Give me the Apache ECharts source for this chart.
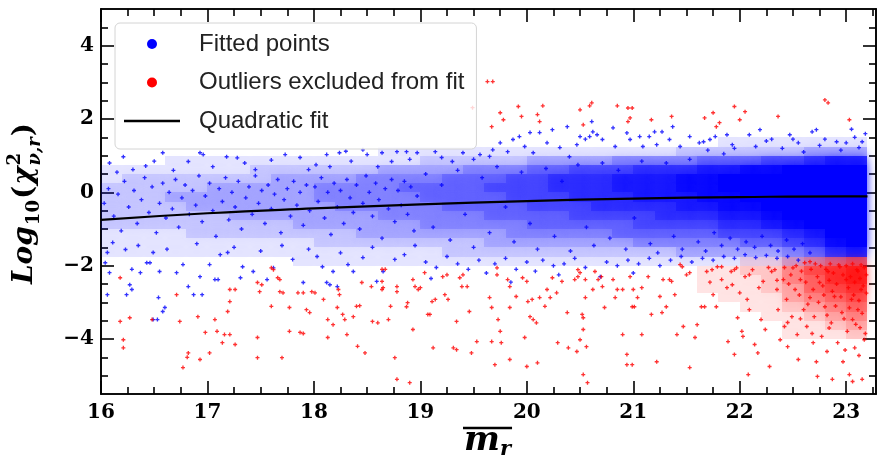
<!DOCTYPE html>
<html><head><meta charset="utf-8">
<script src="https://cdn.jsdelivr.net/npm/echarts@6/dist/echarts.min.js"></script>
<style>html,body{margin:0;padding:0;background:#fff}#c{width:877px;height:455px}</style>
</head><body><div id="c"></div>
<script>
// ---------- ticks ----------
const xMajorTicks = [16,17,18,19,20,21,22,23];
const xMinorTicks = [16.25,16.5,16.75,17.25,17.5,17.75,18.25,18.5,18.75,19.25,19.5,19.75,20.25,20.5,20.75,21.25,21.5,21.75,22.25,22.5,22.75,23.25];
const yMajorTicks = [-4,-2,0,2,4];
const yMinorTicks = [-5,-4.5,-3.5,-3,-2.5,-1.5,-1,-0.5,0.5,1,1.5,2.5,3,3.5,4.5];

// ---------- quadratic fit ----------
const fitMag    = [16, 17, 18, 19, 20, 21, 22, 23, 23.2];
const fitLogChi = [-0.75,-0.57,-0.44,-0.33,-0.24,-0.17,-0.13,-0.11,-0.11];

// ---------- blue point-density (columns of cells, bottom -> top) ----------
const densityMagBins = [16.0,16.2,16.4,16.6,16.8,17.0,17.2,17.4,17.6,17.8,18.0,18.2,18.4,18.6,18.8,19.0,19.2,19.4,19.6,19.8,20.0,20.2,20.4,20.6,20.8,21.0,21.2,21.4,21.6,21.8,22.0,22.2,22.4,22.6,22.8,23.0,23.2];
const blueLogBins = [-2.0,-1.75,-1.5,-1.25,-1.0,-0.75,-0.5,-0.25,0,0.25,0.5,0.75,1.0,1.25,1.5];
const blueDensity = [
[0,1,1,1,2,2,2,2,2,1,1,0,0,0],[0,1,1,1,2,2,2,2,2,2,1,0,0,0],[0,1,1,1,2,2,2,2,2,2,1,0,0,0],[0,1,1,1,2,2,2,3,2,2,1,1,0,0],
[0,1,1,2,2,2,3,3,2,2,1,1,0,0],[0,1,1,2,2,2,3,3,3,2,1,1,0,0],[0,1,1,2,2,3,3,3,3,2,1,1,0,0],[0,1,1,2,2,3,3,3,3,2,2,1,0,0],
[0,1,1,2,2,3,3,3,3,3,2,1,0,0],[1,1,1,2,3,3,3,3,3,3,2,1,0,0],[1,1,2,2,3,3,3,4,4,3,2,1,0,0],[1,1,2,2,3,3,4,4,4,3,2,1,0,0],
[1,1,2,3,3,3,4,4,4,4,2,1,0,0],[1,1,2,3,3,4,4,4,4,4,3,1,1,0],[1,1,2,3,3,4,4,4,5,4,3,1,1,0],[1,1,2,3,4,4,4,5,5,4,3,2,1,0],
[1,2,2,3,4,4,5,5,5,5,3,2,1,0],[1,2,2,3,4,4,5,5,5,5,4,2,1,0],[1,2,3,3,4,5,5,5,6,5,4,2,1,0],[1,2,3,4,4,5,5,6,6,6,4,2,1,0],
[1,2,3,4,5,5,6,6,6,6,5,3,1,0],[1,2,3,4,5,5,6,6,7,7,5,3,1,0],[1,2,3,4,5,6,6,7,7,7,6,3,1,0],[1,2,3,4,5,6,7,7,7,7,6,3,1,0],
[1,2,3,5,5,6,7,7,8,8,6,4,1,0],[1,2,4,5,6,6,7,8,8,8,7,4,1,0],[1,2,4,5,6,7,7,8,8,8,7,4,1,0],[1,3,4,5,6,7,8,8,9,9,7,4,2,0],
[1,3,4,5,6,7,8,9,9,9,8,5,2,0],[1,3,4,6,7,8,9,9,10,10,8,5,2,1],[1,3,5,6,7,8,9,10,10,10,9,5,2,1],[1,3,5,6,8,9,10,10,10,10,9,6,2,1],
[2,4,6,7,9,10,10,10,10,10,10,6,2,1],[2,5,7,8,10,10,10,10,10,10,10,7,3,1],[2,7,9,10,10,10,10,10,10,10,10,8,3,1],[2,8,10,10,10,10,10,10,10,10,10,8,3,1]
];
// ---------- red point-density (dense outlier clump) ----------
const redMagBins = [21.6,21.8,22.0,22.2,22.4,22.6,22.8,23.0,23.2];
const redLogBins = [-4.0,-3.75,-3.5,-3.25,-3.0,-2.75,-2.5,-2.25,-2.0,-1.75];
const redDensity = [
[0,0,0,0,0,1,1,1,0],[0,0,0,0,1,1,1,1,0],[0,0,0,1,1,1,1,2,1],[0,0,1,1,1,2,2,2,1],
[1,1,1,2,3,3,4,4,2],[1,1,2,3,4,5,5,6,3],[1,2,3,4,5,6,7,7,4],[2,3,4,5,6,7,8,8,5]
];

// ---------- individual fitted points ----------
const fittedCore = [[16.03,-0.30],[16.07,0.10],[16.12,-0.65],[16.16,-0.05],[16.19,-1.05],[16.22,0.30],[16.26,-0.40],[16.31,0.05],[16.34,-0.85],[16.38,-0.20],[16.41,0.40],[16.45,-0.55],[16.48,0.15],[16.52,-1.10],[16.55,-0.30],[16.58,0.25],[16.61,-0.70],[16.64,0.00],[16.67,-0.45],[16.70,0.35],[16.73,-0.95],[16.76,-0.15],[16.79,0.20],[16.83,-0.60],[16.86,0.05],[16.89,-0.35],[16.92,0.45],[16.95,-0.80],[16.98,-0.10],
[17.02,0.25],[17.05,-0.50],[17.08,-1.20],[17.11,0.10],[17.14,-0.25],[17.17,0.40],[17.20,-0.75],[17.23,0.00],[17.26,-0.40],[17.29,0.30],[17.32,-1.00],[17.36,-0.15],[17.39,0.15],[17.42,-0.60],[17.45,0.45],[17.48,-0.30],[17.51,0.05],[17.54,-0.85],[17.57,0.20],[17.60,-0.45],[17.63,-0.05],[17.66,0.35],[17.69,-1.10],[17.72,-0.20],[17.75,0.10],[17.78,-0.65],[17.81,0.30],[17.84,-0.35],[17.87,0.00],[17.90,-0.90],[17.93,0.20],[17.96,-0.50],
[18.01,0.15],[18.04,-0.25],[18.07,0.40],[18.10,-0.70],[18.13,0.00],[18.16,-1.15],[18.19,0.25],[18.22,-0.40],[18.25,0.05],[18.28,-0.85],[18.31,0.35],[18.34,-0.15],[18.37,-0.55],[18.40,0.20],[18.43,-1.00],[18.46,-0.30],[18.49,0.45],[18.52,0.00],[18.55,-0.65],[18.58,0.25],[18.61,-0.20],[18.64,-1.25],[18.67,0.10],[18.70,-0.45],[18.73,0.35],[18.76,-0.80],[18.79,0.05],[18.82,-0.35],[18.85,0.30],[18.88,-0.60],[18.91,0.15],[18.94,-1.05],[18.97,-0.10],
[19.05,0.50],[19.12,-0.95],[19.20,0.20],[19.28,-1.30],[19.35,0.60],[19.42,-0.60],[19.50,-1.50],[19.58,0.40],[19.65,-1.10],[19.72,0.70],[19.80,-0.40],[19.88,-1.35],[19.95,0.55],[20.03,-0.85],[20.10,-1.55],[20.18,0.65],[20.26,-1.20],[20.33,0.30],[20.41,-1.60],[20.48,0.75],[20.56,-0.95],[20.63,-1.45],[20.71,0.80],[20.78,-1.25],[20.86,0.60],[20.93,-1.55],[21.01,-0.70],[21.08,0.85],[21.16,-1.40],[21.23,-1.65],[21.31,0.80],[21.38,-1.20],[21.46,-1.55],[21.53,0.90],[21.61,-1.35],[21.68,-1.60],[21.76,-1.10],[21.83,-1.45],[21.91,-1.25],[21.98,-1.55],[22.06,-1.35],[22.14,-1.50],[22.21,-1.20],[22.29,-1.45],[22.36,-1.60],[22.44,-1.30],[22.51,-1.55],[22.59,-1.40],[22.66,-1.65]];
const fittedUpper = [[16.08,0.80],[16.21,0.97],[16.30,0.62],[16.58,1.08],[16.82,0.84],[16.93,1.08],[16.96,1.03],[17.18,0.97],[17.28,0.94],[17.35,0.80],[17.73,1.03],[17.87,0.95],[18.12,1.03],[18.24,1.08],[18.30,1.12],[18.46,1.16],[18.50,1.03],[18.64,1.08],[18.73,0.84],[18.78,1.11],[18.87,1.11],[18.97,1.08],[19.14,1.11],[19.30,0.84],[19.40,1.08],[19.56,1.03],[19.68,1.16],[19.75,1.35],[19.82,1.11],[19.87,1.44],[19.93,1.52],[19.98,1.25],[20.03,1.63],[20.06,1.08],[20.12,1.63],[20.19,1.35],[20.24,1.71],[20.31,1.22],[20.38,1.79],[20.40,0.97],[20.47,1.30],[20.50,1.52],[20.55,1.45],[20.59,1.52],[20.61,1.93],[20.62,1.65],[20.66,1.57],[20.71,1.44],[20.81,1.76],[20.83,1.25],[20.94,1.62],[20.97,1.44],[21.06,1.52],[21.09,1.25],[21.15,1.52],[21.20,1.65],[21.22,1.30],[21.27,1.65],[21.34,1.44],[21.37,1.79],[21.44,1.25],[21.53,1.52],[21.62,1.35],[21.66,1.38],[21.72,1.44],[21.77,1.52],[21.88,1.57],[21.93,1.30],[22.09,1.57],[22.19,1.71],[22.30,1.45],[22.47,1.57],[22.55,1.35],[22.68,1.65],[22.72,1.71],[22.80,1.45],[22.91,1.38],[23.00,1.35],[23.08,1.50],[23.15,1.38],[23.18,1.60],
[16.15,0.55],[16.42,0.72],[16.50,0.85],[16.68,0.60],[17.05,0.70],[17.45,0.62],[17.60,0.88],[17.95,0.62],[18.02,0.75],[18.15,0.70],[18.35,0.85],[18.60,0.70],[18.90,0.90],[19.20,0.95],[19.50,0.90],[19.65,0.98],
[21.70,1.15],[21.85,1.05],[21.95,1.20],[22.15,1.25],[22.25,1.40],[22.40,1.20],[22.50,1.45],[22.60,1.10],[22.75,1.28],[22.95,1.15],[23.05,1.72],[23.12,1.22]];
const fittedLower = [[16.04,-1.92],[16.06,-1.64],[16.06,-2.79],[16.08,-2.19],[16.11,-1.37],[16.23,-1.56],[16.24,-2.79],[16.27,-2.52],[16.29,-2.65],[16.29,-2.10],[16.37,-2.19],[16.43,-1.92],[16.46,-1.92],[16.49,-1.64],[16.49,-3.47],[16.53,-3.47],[16.54,-2.87],[16.55,-2.16],[16.58,-3.25],[16.60,-3.14],[16.71,-2.19],[16.77,-1.97],[16.82,-2.57],[16.87,-2.79],[16.95,-2.79],[16.93,-2.30],[17.02,-1.97],[17.07,-2.38],[17.10,-2.38],[17.19,-1.64],[17.31,-2.33],[17.33,-2.03],[17.43,-2.16],[17.56,-2.38],[17.62,-2.06],[17.80,-1.83],[17.90,-2.46],[18.03,-1.75],[18.08,-2.03],[18.12,-2.46],[18.15,-2.52],[18.22,-2.57],[18.18,-2.16],[18.32,-1.97],[18.37,-2.16],[18.46,-1.78],[18.59,-2.43],[18.65,-2.16],[18.76,-1.83],
[16.35,-1.45],[16.62,-1.55],[16.90,-1.40],[17.12,-1.70],[17.25,-1.50],[17.50,-1.60],[17.70,-1.45],[17.95,-1.55],[18.25,-1.65],[18.55,-1.50],[18.85,-1.70],[18.95,-1.45],
[19.05,-1.90],[19.15,-2.05],[19.25,-1.75],[19.35,-1.95],[19.45,-2.10],[19.55,-1.85],[19.62,-2.20],[19.70,-1.95],[19.80,-1.80],[19.90,-2.10],[20.00,-1.90],[20.08,-2.15],[20.15,-1.85],[20.25,-2.00],[20.35,-1.95],[20.45,-1.80],[20.55,-2.05],[20.69,-2.30],[20.75,-1.90],[20.85,-2.00],[20.95,-1.85],[21.05,-1.95],[21.15,-1.80],[21.25,-2.00],[21.35,-1.85],[21.45,-1.75],[21.55,-1.90],[21.65,-1.80],[21.75,-1.85],[21.85,-1.75],[21.95,-1.80],[22.05,-1.70],[22.15,-1.78],[22.25,-1.72],[22.35,-1.80],[22.45,-1.75],[22.55,-1.85],[19.10,-2.35],[19.85,-2.45],[20.30,-2.25],[21.00,-2.20]];

// ---------- outliers ----------
const outliersHigh = [[19.49,2.31],[19.63,3.02],[19.68,3.02],[19.67,1.79],[19.75,2.17],[19.78,1.98],[19.92,2.34],[19.95,2.07],[20.10,2.12],[20.12,1.93],[20.15,2.36],[20.50,2.25],[20.53,1.84],[20.59,2.36],[20.61,2.44],[20.85,2.36],[20.95,2.30],[20.99,2.30],[20.97,2.03],[20.95,1.93],[21.17,1.98],[21.36,2.07],[21.67,2.03],[21.75,2.17],[21.81,1.90],[21.78,1.79],[21.95,2.34],[22.00,1.98],[22.05,2.20],[22.36,2.07],[22.80,2.52],[22.83,2.44],[23.03,1.98]];
const outliersLow = [[16.18,-2.33],[16.18,-3.52],[16.27,-3.42],[16.21,-4.02],[16.21,-4.24],[16.48,-3.47],[16.71,-2.79],[16.74,-3.52],[16.77,-4.78],[16.81,-4.50],[16.82,-4.38],[16.91,-3.39],[16.93,-4.56],[16.98,-3.82],[17.02,-4.38],[17.07,-3.47],[17.09,-3.79],[17.14,-4.10],[17.16,-3.88],[17.21,-3.88],[17.19,-3.25],[17.21,-2.98],[17.21,-2.65],[17.26,-2.65],[17.26,-4.15],[17.47,-2.46],[17.51,-2.52],[17.49,-2.71],[17.47,-3.96],[17.47,-4.51],[17.60,-2.06],[17.62,-2.11],[17.60,-3.11],[17.66,-2.33],[17.68,-2.38],[17.68,-2.71],[17.71,-2.74],[17.70,-4.51],[17.77,-3.14],[17.77,-3.79],[17.85,-2.74],[17.90,-2.74],[17.87,-3.82],[17.90,-3.85],[17.93,-3.20],[17.96,-3.28],[17.98,-2.71],[18.01,-2.74],[18.09,-2.92],[18.13,-3.96],[18.13,-3.47],[18.18,-3.61],[18.22,-3.14],[18.23,-2.65],[18.24,-2.79],[18.27,-3.33],[18.29,-3.47],[18.31,-3.88],[18.37,-3.39],[18.40,-3.11],[18.43,-3.09],[18.41,-4.20],[18.45,-2.46],[18.48,-4.38],[18.54,-2.57],[18.55,-3.52],[18.60,-3.56],[18.64,-2.65],[18.65,-2.60],[18.64,-2.10],[18.67,-2.10],[18.64,-2.43],[18.70,-3.47],[18.72,-3.11],[18.76,-4.51],[18.78,-5.10],[18.78,-2.57],[18.78,-2.71],[18.87,-3.12],[18.88,-3.01],[18.90,-5.19],[18.93,-2.38],[18.95,-2.57],[18.93,-3.74],[18.98,-2.65],[19.00,-2.60],[19.04,-2.19],[19.07,-3.33],[19.09,-3.33],[19.11,-2.98],[19.14,-2.92],[19.12,-4.24],[19.21,-2.30],[19.25,-2.25],[19.23,-2.79],[19.26,-2.92],[19.31,-4.24],[19.34,-4.29],[19.34,-3.52],[19.37,-2.33],[19.40,-2.25],[19.39,-2.57],[19.44,-2.57],[19.46,-3.25],[19.48,-4.38],[19.53,-4.07],[19.65,-2.87],[19.67,-3.14],[19.67,-4.07],[19.70,-4.70],[19.72,-2.06],[19.72,-2.25],[19.73,-3.47],[19.76,-4.10],[19.75,-3.79],[19.82,-2.38],[19.84,-2.57],[19.84,-3.14],[19.84,-4.56],[19.90,-2.84],[19.96,-2.33],[20.00,-2.43],[19.98,-3.96],[20.00,-4.75],[20.01,-2.98],[20.05,-2.92],[20.03,-3.39],[20.06,-3.47],[20.09,-3.56],[20.10,-4.65],[20.12,-2.87],[20.17,-3.11],[20.19,-2.65],[20.22,-2.87],[20.24,-2.33],[20.28,-2.74],[20.29,-4.10],[20.33,-2.43],[20.38,-3.28],[20.39,-4.24],[20.45,-2.38],[20.48,-2.30],[20.48,-2.11],[20.50,-2.19],[20.47,-4.34],[20.50,-4.02],[20.52,-3.33],[20.53,-4.97],[20.55,-2.87],[20.56,-4.21],[20.57,-5.19],[20.62,-2.65],[20.55,-2.38],[20.53,-3.42],[20.53,-3.74],[20.64,-2.16],[20.67,-2.38],[20.70,-2.30],[20.71,-2.57],[20.73,-3.14],[20.81,-2.38],[20.85,-2.65],[20.83,-2.87],[20.90,-2.65],[20.90,-3.88],[20.94,-4.42],[20.94,-4.70],[20.99,-4.70],[20.97,-2.30],[20.99,-3.12],[21.01,-3.12],[21.00,-2.65],[21.04,-2.87],[21.08,-2.60],[21.08,-3.88],[21.14,-2.30],[21.17,-3.33],[21.22,-4.62],[21.25,-2.84],[21.27,-3.28],[21.28,-2.38],[21.34,-2.38],[21.36,-2.43],[21.31,-3.12],[21.39,-2.79],[21.41,-3.88],[21.44,-1.97],[21.46,-2.03],[21.47,-3.66],[21.50,-2.25],[21.53,-2.19],[21.53,-4.78],[21.58,-3.96],[21.60,-3.61],[21.64,-3.12],[21.67,-3.12],[21.69,-2.16],[21.74,-2.11],[21.75,-2.79],[21.78,-3.12],[21.79,-2.03],[21.83,-2.03],[21.83,-2.38],[21.89,-4.07],[21.92,-2.16],[21.95,-2.11],[21.97,-2.06],[21.93,-2.52],[21.95,-4.42],[21.98,-3.42],[22.00,-2.74],[22.02,-3.79],[22.03,-3.93],[22.08,-4.97],[22.09,-2.25],[22.12,-2.11],[22.07,-2.92],[22.09,-3.20],[22.14,-4.15],[22.17,-4.38],[22.20,-3.47],[22.22,-2.43],[22.24,-3.74],[22.28,-4.75],[22.30,-2.16],[22.33,-2.11],[22.35,-2.65],[22.36,-3.20],[22.38,-4.02],[22.41,-2.38],[22.42,-3.66],[22.44,-2.92],[22.45,-4.21],[22.49,-3.39],[22.50,-2.06],[22.52,-2.65],[22.54,-3.88],[22.55,-4.56],[22.57,-2.38],[22.60,-3.20],[22.61,-1.92],[22.66,-1.89],[22.63,-3.66],[22.66,-2.87],[22.69,-4.10],[22.70,-3.39],[22.72,-4.62],[22.73,-5.02],[22.75,-2.46],[22.77,-3.93],[22.80,-3.12],[22.82,-4.34],[22.83,-2.16],[22.86,-3.56],[22.87,-5.10],[22.89,-2.84],[22.92,-4.10],[22.94,-2.03],[22.96,-3.28],[22.97,-4.62],[23.00,-2.38],[23.01,-3.79],[23.03,-4.97],[23.05,-2.92],[23.06,-3.47],[23.08,-4.24],[23.10,-2.11],[23.11,-3.20],[23.13,-3.69],[23.14,-2.65],[23.15,-5.10],[23.17,-4.02],[23.06,-5.16]];
const outliersDense = [[22.42,-2.05],[22.46,-2.50],[22.48,-2.25],[22.53,-2.00],[22.56,-2.80],[22.58,-2.15],[22.62,-2.45],[22.64,-3.05],[22.67,-2.10],[22.69,-2.65],[22.71,-1.95],[22.73,-2.30],[22.74,-3.00],[22.76,-2.00],[22.78,-2.55],[22.79,-2.80],[22.81,-2.10],[22.82,-3.35],[22.84,-2.40],[22.85,-1.95],[22.87,-2.70],[22.88,-2.20],[22.90,-3.10],[22.91,-2.50],[22.93,-1.98],[22.95,-2.85],[22.97,-2.25],[22.98,-3.45],[23.00,-2.00],[23.02,-2.60],[23.03,-3.15],[23.04,-2.30],[23.06,-1.95],[23.07,-2.80],[23.08,-2.45],[23.09,-3.60],[23.11,-2.15],[23.12,-2.95],[23.13,-2.35],[23.14,-1.98],[23.15,-3.30],[23.16,-2.55],[23.17,-2.05],[23.18,-3.85],[23.19,-2.75],[23.19,-2.25],[22.45,-3.55],[22.57,-3.45],[22.68,-3.85],[22.84,-3.70],[22.99,-4.30],[23.12,-4.45],[22.35,-2.40],[22.27,-2.05],[22.18,-2.60],[22.05,-2.30],[21.88,-2.60],[21.72,-2.45]];

// ---------- build chart ----------
const X_MIN = 16, X_MAX = 23.28, Y_MIN = -5.5, Y_MAX = 5;
const PLUS = 'path://M1,0H2V1H3V2H2V3H1V2H0V1H1Z';

function cells(magBins, logBins, grid) {
  const out = [];
  grid.forEach((col, i) => col.forEach((v, j) => {
    if (v > 0) out.push([magBins[i], logBins[j], magBins[i + 1], logBins[j + 1], v]);
  }));
  return out;
}
// each cell is painted with a soft edge so the mosaic reads more like a point cloud
function cellRenderer(rgb, blur) {
  return function (params, api) {
    const p0 = api.coord([api.value(0), api.value(1)]);
    const p1 = api.coord([api.value(2), api.value(3)]);
    const l = Math.round(Math.min(p0[0], p1[0])), r = Math.round(Math.max(p0[0], p1[0]));
    const t = Math.round(Math.min(p0[1], p1[1])), b = Math.round(Math.max(p0[1], p1[1]));
    const c = 'rgba(' + rgb + ',' + (api.value(4) / 10) + ')';
    return { type: 'rect', shape: { x: l, y: t, width: r - l, height: b - t },
      style: { fill: c, shadowBlur: blur, shadowColor: c } };
  };
}

const tickFont = { fontFamily: 'DejaVu Serif', fontWeight: 'bold', fontSize: 20, color: '#000' };
const fmt = v => String(v).replace('-', '\u2212');
function axis(kind, pos, ticks, len, labels) {
  return {
    type: 'value', position: pos, min: kind === 'x' ? X_MIN : Y_MIN, max: kind === 'x' ? X_MAX : Y_MAX,
    axisLine: { show: true, onZero: false, lineStyle: { color: '#000', width: 1.6 } },
    axisTick: { show: true, inside: true, length: len, customValues: ticks, lineStyle: { color: '#000', width: 1.6 } },
    axisLabel: Object.assign({ show: labels, customValues: ticks, formatter: fmt, margin: kind === 'x' ? 9 : 7 }, tickFont),
    splitLine: { show: false }, minorTick: { show: false }
  };
}

const chart = echarts.init(document.getElementById('c'), null, { renderer: 'canvas' });

// axis titles laid out from measured text widths
const mctx = document.createElement('canvas').getContext('2d');
function tw(font, t) { mctx.font = font; return mctx.measureText(t).width; }
const FM = 'italic bold 28px "DejaVu Serif"', FU = 'bold 28px "DejaVu Serif"',
      FS = 'bold 18px "DejaVu Serif"', FSI = 'italic bold 18px "DejaVu Serif"';
const yTokens = [
  [{ t: 'Log', f: FM, dy: 0 }], [{ t: '10', f: FS, dy: 9 }], [{ t: '(', f: FU, dy: 0 }],
  [{ t: '\u03c7', f: FM, dy: 0 }], [{ t: '2', f: FS, dy: -10 }, { t: '\u03bd,r', f: FSI, dy: 10 }], [{ t: ')', f: FU, dy: 0 }]
];
let cx = 0; const yChildren = [];
yTokens.forEach(stack => {
  let wmax = 0;
  stack.forEach(tok => {
    yChildren.push({ type: 'text', x: cx, y: tok.dy, style: { text: tok.t, font: tok.f, fill: '#000', align: 'left', verticalAlign: 'middle', textAlign: 'left', textVerticalAlign: 'middle' } });
    wmax = Math.max(wmax, tw(tok.f, tok.t));
  });
  cx += wmax + 1;
});
yChildren.forEach(c => c.x -= cx / 2);
const FX = 'italic bold 34px "DejaVu Serif"', FXS = 'italic bold 21px "DejaVu Serif"';
const wm = tw(FX, 'm'), wr = tw(FXS, 'r');

const option = {
  animation: false,
  backgroundColor: '#fff',
  grid: { left: 101, right: 1, top: 9, bottom: 61, containLabel: false },
  xAxis: [axis('x', 'bottom', xMajorTicks, 13, true), axis('x', 'bottom', xMinorTicks, 7, false),
          axis('x', 'top', xMajorTicks, 13, false), axis('x', 'top', xMinorTicks, 7, false)],
  yAxis: [axis('y', 'left', yMajorTicks, 13, true), axis('y', 'left', yMinorTicks, 7, false),
          axis('y', 'right', yMajorTicks, 13, false), axis('y', 'right', yMinorTicks, 7, false)],
  legend: {
    left: 115, top: 23, orient: 'vertical', selectedMode: false,
    data: [
      { name: 'Fitted points', icon: 'circle', itemStyle: { color: '#0000ff', opacity: 1 } },
      { name: 'Outliers excluded from fit', icon: 'circle', itemStyle: { color: '#ff0000', opacity: 1 } },
      { name: 'Quadratic fit', icon: 'path://M0,0H56V2.4H0Z', itemStyle: { color: '#000', opacity: 1 } }
    ],
    itemWidth: 56, itemHeight: 10, itemGap: 14.5, padding: [9, 12, 16, 9],
    backgroundColor: 'rgba(255,255,255,0.8)', borderColor: '#d4d4d4', borderWidth: 1, borderRadius: 5,
    textStyle: { fontFamily: 'Liberation Sans', fontSize: 24, color: '#222', padding: [0, 0, 0, 14] }
  },
  graphic: [
    { type: 'group', x: 25, y: 203, rotation: Math.PI / 2, children: yChildren },
    { type: 'group', x: 464, y: 441, children: [
      { type: 'text', x: 0, y: 0, style: { text: 'm', font: FX, fill: '#000', align: 'left', verticalAlign: 'middle', textAlign: 'left', textVerticalAlign: 'middle' } },
      { type: 'text', x: wm, y: 9, style: { text: 'r', font: FXS, fill: '#000', align: 'left', verticalAlign: 'middle', textAlign: 'left', textVerticalAlign: 'middle' } },
      { type: 'line', shape: { x1: -1, y1: -13, x2: wm + wr + 1, y2: -13 }, style: { stroke: '#000', lineWidth: 2.5 } }
    ] }
  ],
  series: [
    { type: 'custom', name: 'blueDensity', silent: true, z: 1, clip: true, renderItem: cellRenderer('0,0,255', 10),
      data: cells(densityMagBins, blueLogBins, blueDensity), encode: { x: [0, 2], y: [1, 3] } },
    { type: 'custom', name: 'redDensity', silent: true, z: 1, clip: true, renderItem: cellRenderer('255,0,0', 10),
      data: cells(redMagBins, redLogBins, redDensity), encode: { x: [0, 2], y: [1, 3] } },
    { type: 'scatter', name: 'Fitted points', symbol: PLUS, symbolSize: 4, z: 2, silent: true,
      itemStyle: { color: '#0000ff', opacity: 0.8 },
      data: fittedCore.concat(fittedUpper, fittedLower) },
    { type: 'scatter', name: 'Outliers excluded from fit', symbol: PLUS, symbolSize: 4, z: 3, silent: true,
      itemStyle: { color: '#ff0000', opacity: 0.8 },
      data: outliersHigh.concat(outliersLow, outliersDense) },
    { type: 'line', name: 'Quadratic fit', smooth: true, symbol: 'none', z: 5, silent: true,
      lineStyle: { color: '#000', width: 2.2 }, itemStyle: { color: '#000' },
      data: fitMag.map((m, i) => [m, fitLogChi[i]]) }
  ]
};
chart.setOption(option);
</script>
</body></html>
